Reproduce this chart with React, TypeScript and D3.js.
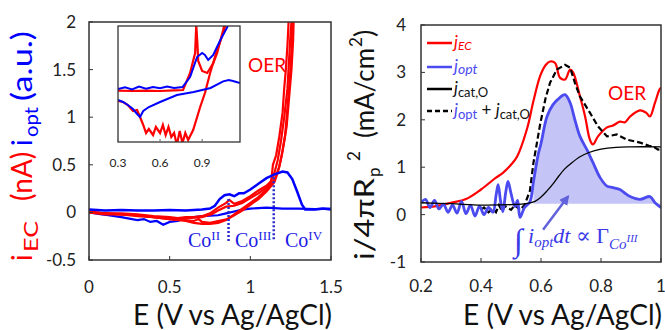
import * as d3 from 'd3';

// ---------- left panel: CV (E in V, i in nA / a.u.) ----------
const leftXTicks = [0, 0.5, 1, 1.5];
const leftYTicks = [-0.5, 0, 0.5, 1, 1.5, 2];

const redFwd1: [number, number][] = [
  [0, 0.01], [0.05, 0.0], [0.1, -0.01], [0.2, -0.01], [0.3, -0.02], [0.4, -0.04], [0.5, -0.05],
  [0.55, -0.06], [0.6, -0.05], [0.65, -0.05], [0.7, -0.04], [0.75, -0.01], [0.8, 0.05], [0.85, 0.1],
  [0.87, 0.13], [0.9, 0.09], [0.95, 0.12], [1.0, 0.17], [1.05, 0.23], [1.1, 0.28], [1.13, 0.33],
  [1.14, 0.5], [1.16, 0.6], [1.18, 0.8], [1.2, 1.05], [1.21, 1.3], [1.22, 1.5], [1.23, 1.75], [1.24, 2.1]
];
const redRev1: [number, number][] = [
  [1.26, 2.1], [1.255, 1.7], [1.245, 1.4], [1.23, 1.1], [1.215, 0.8], [1.195, 0.6], [1.17, 0.42],
  [1.15, 0.32], [1.1, 0.22], [1.05, 0.14], [1.0, 0.08], [0.95, 0.02], [0.9, -0.03], [0.86, -0.07],
  [0.8, -0.09], [0.75, -0.11], [0.7, -0.1], [0.68, -0.07], [0.65, -0.09], [0.6, -0.08], [0.5, -0.07],
  [0.4, -0.05], [0.3, -0.03], [0.2, -0.02], [0.1, -0.01], [0, 0]
];
const redFwd2: [number, number][] = [
  [0, 0.0], [0.1, -0.02], [0.2, -0.02], [0.3, -0.03], [0.4, -0.05], [0.5, -0.06], [0.6, -0.06],
  [0.7, -0.05], [0.76, -0.02], [0.8, 0.02], [0.85, 0.06], [0.9, 0.07], [0.95, 0.1], [1.0, 0.15],
  [1.05, 0.2], [1.1, 0.26], [1.12, 0.3], [1.15, 0.42], [1.17, 0.55], [1.19, 0.75], [1.21, 1.0],
  [1.23, 1.3], [1.24, 1.6], [1.25, 1.9], [1.26, 2.1]
];
const redRev2: [number, number][] = [
  [1.27, 2.1], [1.265, 1.8], [1.255, 1.5], [1.24, 1.2], [1.225, 0.9], [1.2, 0.65], [1.18, 0.48],
  [1.15, 0.35], [1.1, 0.24], [1.05, 0.16], [1.0, 0.1], [0.95, 0.04], [0.9, -0.02], [0.85, -0.08],
  [0.8, -0.11], [0.75, -0.12], [0.7, -0.12], [0.65, -0.11], [0.6, -0.09], [0.5, -0.07], [0.4, -0.05],
  [0.3, -0.04], [0.2, -0.02], [0.1, -0.01], [0, 0.0]
];
const blueFwd: [number, number][] = [
  [0, 0.03], [0.1, 0.02], [0.2, 0.025], [0.3, 0.02], [0.4, 0.02], [0.5, 0.025], [0.6, 0.02],
  [0.7, 0.03], [0.75, 0.04], [0.78, 0.07], [0.81, 0.14], [0.84, 0.18], [0.87, 0.19], [0.9, 0.17],
  [0.93, 0.2], [0.96, 0.2], [1.0, 0.24], [1.05, 0.3], [1.1, 0.36], [1.15, 0.4], [1.2, 0.43],
  [1.23, 0.42], [1.26, 0.35], [1.29, 0.22], [1.32, 0.08], [1.34, 0.03], [1.4, 0.03], [1.45, 0.04], [1.5, 0.03]
];
const blueRev: [number, number][] = [
  [1.5, 0.04], [1.4, 0.035], [1.3, 0.04], [1.2, 0.04], [1.1, 0.05], [1.0, 0.04], [0.95, 0.03],
  [0.9, 0.01], [0.85, -0.01], [0.8, -0.03], [0.7, -0.04], [0.6, -0.06], [0.55, -0.09], [0.5, -0.1],
  [0.46, -0.13], [0.42, -0.09], [0.38, -0.1], [0.34, -0.07], [0.3, -0.08], [0.2, -0.05], [0.12, -0.03],
  [0.08, -0.02], [0.04, -0.01], [0, 0.0]
];
// dotted markers between oxidation states
const coMarkers: [number, number, number][] = [[0.865, 0.14, -0.3], [1.145, 0.37, -0.3]];

// ---------- inset ----------
const insetXTicks = [0.3, 0.6, 0.9];
const insetBlueFwd: [number, number][] = [
  [0.3, 0.02], [0.35, 0.028], [0.4, 0.018], [0.45, 0.032], [0.5, 0.022], [0.55, 0.03], [0.6, 0.024],
  [0.65, 0.032], [0.7, 0.025], [0.76, 0.03], [0.814, 0.08], [0.864, 0.18], [0.9, 0.2], [0.92, 0.19],
  [0.943, 0.165], [0.979, 0.19], [1.03, 0.265], [1.08, 0.33], [1.1, 0.4]
];
const insetBlueRev: [number, number][] = [
  [1.17, 0.05], [1.12, 0.06], [1.09, 0.065], [1.05, 0.058], [0.96, 0.025], [0.84, 0.005], [0.72, -0.01],
  [0.6, -0.045], [0.52, -0.07], [0.48, -0.09], [0.457, -0.12], [0.43, -0.1], [0.407, -0.08],
  [0.37, -0.06], [0.336, -0.045], [0.3, -0.035]
];
const insetRedFwd: [number, number][] = [
  [0.3, 0.012], [0.4, 0.01], [0.5, 0.012], [0.6, 0.01], [0.7, 0.013], [0.764, 0.015], [0.814, 0.1],
  [0.85, 0.2], [0.858, 0.34], [0.866, 0.25], [0.872, 0.16], [0.9, 0.11], [0.936, 0.1], [0.98, 0.15],
  [1.007, 0.2], [1.05, 0.315], [1.06, 0.35]
];
const insetRedRev: [number, number][] = [
  [1.07, 0.35], [1.05, 0.3], [1.0, 0.2], [0.957, 0.1], [0.92, 0.0], [0.886, -0.07], [0.836, -0.185],
  [0.8, -0.235], [0.78, -0.2], [0.76, -0.25], [0.74, -0.19], [0.72, -0.26], [0.7, -0.2], [0.68, -0.22],
  [0.66, -0.17], [0.64, -0.21], [0.62, -0.16], [0.6, -0.2], [0.57, -0.17], [0.55, -0.21], [0.52, -0.18],
  [0.5, -0.2], [0.48, -0.16], [0.457, -0.12], [0.436, -0.085], [0.407, -0.09], [0.37, -0.06],
  [0.336, -0.045], [0.3, -0.04]
];

// ---------- right panel: current densities (mA/cm2) ----------
const rightXTicks = [0.2, 0.4, 0.6, 0.8, 1];
const rightYTicks = [-1, 0, 1, 2, 3, 4];

const jEC: [number, number][] = [
  [0.2, 0.15], [0.25, 0.18], [0.3, 0.25], [0.35, 0.33], [0.4, 0.53], [0.45, 0.78], [0.473, 0.88],
  [0.5, 1.05], [0.52, 1.22], [0.553, 1.8], [0.575, 2.4], [0.597, 2.92], [0.615, 3.15], [0.63, 3.23],
  [0.647, 3.2], [0.663, 2.89], [0.68, 2.85], [0.697, 3.06], [0.707, 3.0], [0.73, 2.49], [0.747, 2.07],
  [0.763, 1.58], [0.773, 1.48], [0.79, 1.65], [0.82, 1.84], [0.84, 1.88], [0.863, 1.96], [0.88, 1.95],
  [0.897, 2.07], [0.93, 2.2], [0.95, 2.15], [0.963, 2.07], [0.98, 2.36], [0.997, 2.66], [1.0, 2.66]
];
const jOpt: [number, number][] = [
  [0.2, 0.25], [0.215, 0.32], [0.23, 0.15], [0.245, 0.3], [0.26, 0.12], [0.275, 0.22], [0.29, 0.05],
  [0.305, 0.2], [0.32, 0.03], [0.335, 0.28], [0.35, 0.02], [0.365, 0.2], [0.38, -0.03], [0.395, 0.18],
  [0.41, 0.0], [0.425, 0.15], [0.44, 0.05], [0.45, 0.4], [0.457, 0.63], [0.465, 0.3], [0.473, 0.06],
  [0.482, 0.45], [0.49, 0.7], [0.5, 0.45], [0.513, 0.17], [0.522, 0.3], [0.53, -0.06], [0.545, 0.15],
  [0.563, 0.27], [0.575, 0.7], [0.59, 1.25], [0.6, 1.5], [0.62, 2.07], [0.64, 2.32], [0.663, 2.47],
  [0.68, 2.53], [0.697, 2.36], [0.713, 2.0], [0.73, 1.65], [0.753, 1.37], [0.773, 1.1], [0.797, 0.78],
  [0.82, 0.6], [0.84, 0.57], [0.863, 0.53], [0.88, 0.45], [0.897, 0.38], [0.93, 0.32], [0.963, 0.38],
  [0.98, 0.25], [1.0, 0.15]
];
const jCat: [number, number][] = [
  [0.2, 0.25], [0.3, 0.23], [0.4, 0.2], [0.5, 0.21], [0.55, 0.23], [0.58, 0.28], [0.6, 0.37],
  [0.62, 0.5], [0.64, 0.65], [0.66, 0.82], [0.68, 0.97], [0.7, 1.08], [0.73, 1.22], [0.76, 1.31],
  [0.8, 1.38], [0.85, 1.42], [0.9, 1.43], [1.0, 1.43]
];
const jSum: [number, number][] = [
  [0.4, 0.1], [0.41, 0.15], [0.425, 0.05], [0.44, 0.12], [0.45, 0.05], [0.46, 0.2], [0.47, 0.08],
  [0.48, 0.18], [0.5, 0.1], [0.513, 0.2], [0.53, 0.1], [0.545, 0.2], [0.563, 0.5], [0.575, 1.1],
  [0.597, 1.9], [0.615, 2.45], [0.63, 2.78], [0.653, 3.06], [0.68, 3.16], [0.697, 3.1], [0.713, 2.78],
  [0.73, 2.49], [0.763, 2.15], [0.79, 1.86], [0.82, 1.65], [0.853, 1.69], [0.887, 1.58], [0.93, 1.52],
  [0.96, 1.45], [0.973, 1.44], [0.99, 1.37], [1.0, 1.38]
];
const fillBase = 0.23;
const fillStart = 0.565;

const SANS = 'Lato, "Open Sans", sans-serif';
const SERIF = '"Liberation Serif", "DejaVu Serif", serif';
const RED = '#ff0000';
const BLUE = '#0000ff';
const LBLUE = '#4b4bef';

export default function App() {
  // scales
  const xL = d3.scaleLinear().domain([0, 1.5]).range([89, 331]);
  const yL = d3.scaleLinear().domain([-0.5, 2]).range([260, 22]);
  const xI = d3.scaleLinear().domain([0.3, 1.17]).range([118, 240]);
  const yI = d3.scaleLinear().domain([-0.245, 0.335]).range([142, 26]);
  const xR = d3.scaleLinear().domain([0.2, 1]).range([421, 661]);
  const yR = d3.scaleLinear().domain([-1, 4]).range([262, 25]);

  const lineL = d3.line<[number, number]>().x(d => xL(d[0])).y(d => yL(d[1]));
  const lineI = d3.line<[number, number]>().x(d => xI(d[0])).y(d => yI(d[1]));
  const lineR = d3.line<[number, number]>().x(d => xR(d[0])).y(d => yR(d[1]));
  const smoothR = d3.line<[number, number]>().x(d => xR(d[0])).y(d => yR(d[1])).curve(d3.curveCatmullRom);
  const areaR = d3.area<[number, number]>()
    .x(d => xR(d[0]))
    .y0(yR(fillBase))
    .y1(d => yR(d[1]))
    .curve(d3.curveCatmullRom);

  const [lx0, lx1] = xL.range();
  const [ly0, ly1] = yL.range();
  const [ix0, ix1] = xI.range();
  const [iy0, iy1] = yI.range();
  const [rx0, rx1] = xR.range();
  const [ry0, ry1] = yR.range();

  return (
    <svg width={665} height={330} style={{ position: 'absolute', left: 0, top: 0, background: '#fff' }}
      fontFamily={SANS}>
      <defs>
        <clipPath id="clipL"><rect x={lx0} y={ly1} width={lx1 - lx0} height={ly0 - ly1} /></clipPath>
        <clipPath id="clipI"><rect x={ix0} y={iy1} width={ix1 - ix0} height={iy0 - iy1} /></clipPath>
        <clipPath id="clipR"><rect x={rx0} y={ry1} width={rx1 - rx0} height={ry0 - ry1} /></clipPath>
        <marker id="arrowHead" viewBox="0 0 10 10" refX="8" refY="5" markerWidth="4" markerHeight="4" orient="auto">
          <path d="M0,0 L10,5 L0,10 z" fill="#6262dc" />
        </marker>
      </defs>

      {/* ===== left panel ===== */}
      <g clipPath="url(#clipL)">
        <path d={lineL(blueRev) ?? ''} fill="none" stroke={BLUE} strokeWidth={2.2} />
        <path d={lineL(redFwd1) ?? ''} fill="none" stroke={RED} strokeWidth={2.2} />
        <path d={lineL(redRev1) ?? ''} fill="none" stroke={RED} strokeWidth={2.2} />
        <path d={lineL(redFwd2) ?? ''} fill="none" stroke={RED} strokeWidth={2.2} />
        <path d={lineL(redRev2) ?? ''} fill="none" stroke={RED} strokeWidth={2.2} />
        <path d={lineL(blueFwd) ?? ''} fill="none" stroke={BLUE} strokeWidth={2.5} />
        {coMarkers.map(([e, top, bot], i) => (
          <line key={i} x1={xL(e)} x2={xL(e)} y1={yL(top)} y2={yL(bot)}
            stroke="#2a2acc" strokeWidth={2.5} strokeDasharray="2,2" />
        ))}
      </g>
      <rect x={lx0} y={ly1} width={lx1 - lx0} height={ly0 - ly1} fill="none" stroke="#333" strokeWidth={1.5} />
      {leftXTicks.map(t => (
        <g key={t}>
          <line x1={xL(t)} x2={xL(t)} y1={ly0} y2={ly0 - 4} stroke="#333" />
          <text x={xL(t)} y={293} fontSize={17} textAnchor="middle" fill="#222">{t}</text>
        </g>
      ))}
      {leftYTicks.map(t => (
        <g key={t}>
          <line x1={lx0} x2={lx0 + 4} y1={yL(t)} y2={yL(t)} stroke="#333" />
          <text x={76} y={yL(t) + 6} fontSize={17} textAnchor="end" fill="#222">{t}</text>
        </g>
      ))}
      <text x={133} y={325} fontSize={28} fill="#111" textLength={199} lengthAdjust="spacingAndGlyphs">E (V vs Ag/AgCl)</text>

      {/* left y label, pieces placed along the rotated axis */}
      <g transform="rotate(-90)" fontSize={28}>
        <text x={-261} y={32} fill={RED}>i</text>
        <text x={-252} y={38} fill={RED} fontSize={19} textLength={31} lengthAdjust="spacingAndGlyphs">EC</text>
        <text x={-201} y={32} fill={RED}>(nA)</text>
        <text x={-146} y={32} fill={BLUE}>i</text>
        <text x={-137} y={38} fill={BLUE} fontSize={19} textLength={30} lengthAdjust="spacingAndGlyphs">opt</text>
        <text x={-101} y={32} fill={BLUE} textLength={70} lengthAdjust="spacingAndGlyphs">(a.u.)</text>
      </g>
      <text x={248} y={72} fontSize={19} fill={RED}>OER</text>
      <g fontFamily={SERIF} fill="#1a1ae6" fontSize={20}>
        <text x={188} y={247}>Co<tspan fontSize={13} dy={-7}>II</tspan></text>
        <text x={235} y={247}>Co<tspan fontSize={13} dy={-7}>III</tspan></text>
        <text x={285} y={247}>Co<tspan fontSize={13} dy={-7}>IV</tspan></text>
      </g>

      {/* ===== inset ===== */}
      <rect x={ix0} y={iy1} width={ix1 - ix0} height={iy0 - iy1} fill="#fff" />
      <g clipPath="url(#clipI)">
        <path d={lineI(insetRedRev) ?? ''} fill="none" stroke={RED} strokeWidth={2.2} />
        <path d={lineI(insetRedFwd) ?? ''} fill="none" stroke={RED} strokeWidth={2.2} />
        <path d={lineI(insetBlueRev) ?? ''} fill="none" stroke={BLUE} strokeWidth={2} />
        <path d={lineI(insetBlueFwd) ?? ''} fill="none" stroke={BLUE} strokeWidth={2} />
      </g>
      <rect x={ix0} y={iy1} width={ix1 - ix0} height={iy0 - iy1} fill="none" stroke="#333" strokeWidth={1.3} />
      {insetXTicks.map(t => (
        <g key={t}>
          <line x1={xI(t)} x2={xI(t)} y1={iy0} y2={iy0 - 3} stroke="#666" />
          <text x={xI(t)} y={167} fontSize={12} textAnchor="middle" fill="#222">{t}</text>
        </g>
      ))}

      {/* ===== right panel ===== */}
      <g clipPath="url(#clipR)">
        <path d={areaR(jOpt.filter(d => d[0] >= fillStart)) ?? ''} fill="#babaf5" opacity={0.85} />
        <path d={smoothR(jEC) ?? ''} fill="none" stroke={RED} strokeWidth={2.2} />
        <path d={lineR(jSum) ?? ''} fill="none" stroke="#000" strokeWidth={2.2} strokeDasharray="6,3" />
        <path d={smoothR(jOpt) ?? ''} fill="none" stroke={LBLUE} strokeWidth={2.8} />
        <path d={smoothR(jCat) ?? ''} fill="none" stroke="#000" strokeWidth={1.3} />
      </g>
      <rect x={rx0} y={ry1} width={rx1 - rx0} height={ry0 - ry1} fill="none" stroke="#333" strokeWidth={1.5} />
      {rightXTicks.map(t => (
        <g key={t}>
          <line x1={xR(t)} x2={xR(t)} y1={ry0} y2={ry0 - 4} stroke="#333" />
          <text x={xR(t)} y={292} fontSize={17} textAnchor="middle" fill="#222">{t}</text>
        </g>
      ))}
      {rightYTicks.map(t => (
        <g key={t}>
          <line x1={rx0} x2={rx0 + 4} y1={yR(t)} y2={yR(t)} stroke="#333" />
          <text x={406} y={yR(t) + 6} fontSize={17} textAnchor="end" fill="#222">{t}</text>
        </g>
      ))}
      <text x={463} y={325} fontSize={28} fill="#111" textLength={199} lengthAdjust="spacingAndGlyphs">E (V vs Ag/AgCl)</text>

      {/* right y label */}
      <g transform="rotate(-90)" fontSize={27} fill="#111">
        <text x={-260} y={374} textLength={82} lengthAdjust="spacingAndGlyphs">i/4πR</text>
        <text x={-177} y={380} fontSize={17}>p</text>
        <text x={-161} y={360} fontSize={17}>2</text>
        <text x={-138} y={374} textLength={90} lengthAdjust="spacingAndGlyphs">(mA/cm</text>
        <text x={-47} y={362} fontSize={17}>2</text>
        <text x={-37} y={374}>)</text>
      </g>
      <text x={608} y={100} fontSize={19} fill={RED}>OER</text>

      {/* legend */}
      <g fontSize={17}>
        <line x1={427} x2={452} y1={43} y2={43} stroke={RED} strokeWidth={2.5} />
        <text x={454} y={48} fill={RED}>
          <tspan fontStyle="italic">j</tspan><tspan fontStyle="italic" fontSize={12} dy={2}>EC</tspan>
        </text>
        <line x1={427} x2={452} y1={67} y2={67} stroke={LBLUE} strokeWidth={2.5} />
        <text x={454} y={72} fill={LBLUE}>
          <tspan fontStyle="italic">j</tspan><tspan fontStyle="italic" fontSize={14} dy={2}>opt</tspan>
        </text>
        <line x1={427} x2={452} y1={89} y2={89} stroke="#000" strokeWidth={2.5} />
        <text x={454} y={94} fill="#111">
          <tspan fontStyle="italic">j</tspan><tspan fontSize={13} dy={3}>cat,O</tspan>
        </text>
        <line x1={427} x2={452} y1={111} y2={111} stroke="#000" strokeWidth={2.5} strokeDasharray="5,3" />
        <text x={454} y={116} fill="#111">
          <tspan fontStyle="italic" fill={LBLUE}>j</tspan><tspan fontSize={13} dy={3} fill={LBLUE}>opt</tspan>
          <tspan dy={-3}> + </tspan>
          <tspan fontStyle="italic">j</tspan><tspan fontSize={13} dy={3}>cat,O</tspan>
        </text>
      </g>

      {/* integral annotation */}
      <line x1={xR(0.607)} y1={yR(-0.32)} x2={xR(0.69)} y2={yR(0.38)} stroke="#6262dc" strokeWidth={2.5}
        markerEnd="url(#arrowHead)" />
      <g fontFamily={SERIF} fill="#3a3ae6">
        <text x={514} y={251} fontSize={32} fontStyle="italic">∫</text>
        <text x={528} y={243} fontSize={22} fontStyle="italic">
          i<tspan fontSize={15} dy={4}>opt</tspan><tspan dy={-4}>dt </tspan>
          <tspan fontStyle="normal">∝ Γ</tspan>
          <tspan fontSize={15} dy={6}>Co</tspan>
          <tspan fontSize={11} dy={-7}>III</tspan>
        </text>
      </g>
    </svg>
  );
}
